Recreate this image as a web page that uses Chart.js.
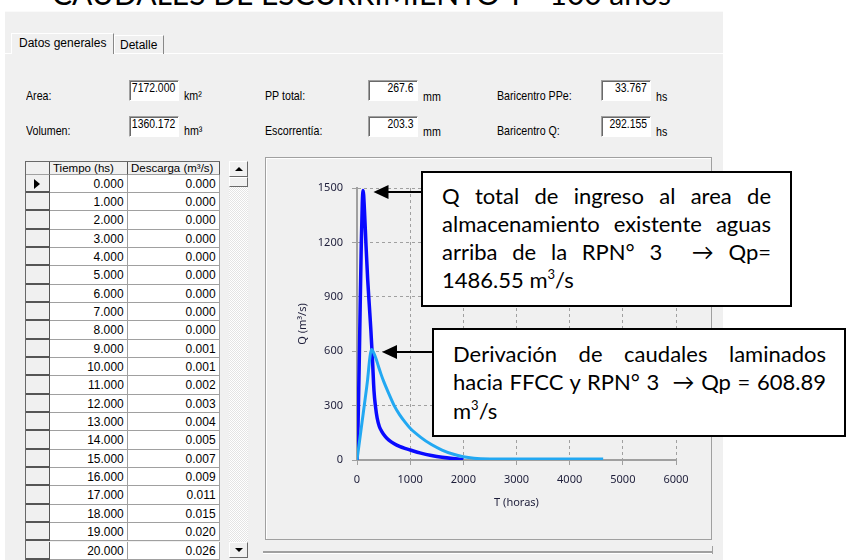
<!DOCTYPE html>
<html>
<head>
<meta charset="utf-8">
<script src="https://cdn.jsdelivr.net/npm/chart.js@4.4.0/dist/chart.umd.min.js"></script>
<style>
  body { margin:0; width:847px; height:560px; overflow:hidden; background:#fff; position:relative;
         font-family:'Liberation Sans', Arial, sans-serif; font-size:12px; color:#000; }
  .abs { position:absolute; }
  #title { left:52px; top:-22px; font:30px Lato, sans-serif; line-height:30px; white-space:nowrap; }
  #panel { left:5px; top:11px; width:718px; height:560px; background:#f0f0f0; border-top:1px solid #fafafa; }
  .tab { height:19px; border-left:1px solid #fff; border-top:1px solid #fff; border-right:1px solid #888; line-height:19px; padding-left:5px; box-sizing:border-box; white-space:nowrap; }
  .lbl { font-size:13px; line-height:14px; white-space:nowrap; transform:scaleX(0.82); transform-origin:left; }
  .box { background:#fff; border-top:1px solid #a0a0a0; border-left:1px solid #a0a0a0; border-right:1px solid #fff; border-bottom:1px solid #fff;
         box-shadow: inset 1px 1px 0 #696969; box-sizing:border-box; font-size:13px; }
  .box span { position:absolute; right:3px; top:0; line-height:14px; white-space:nowrap; transform:scaleX(0.8); transform-origin:right; }
  #grid { left:25px; top:161px; width:195px; height:399px; overflow:hidden; background:#f0f0f0; border-left:1px solid #696969; border-top:1px solid #696969; box-sizing:border-box; }
  .row { position:absolute; left:0; height:18.35px; width:194px; }
  .ind { position:absolute; left:0; width:24px; height:100%; border-bottom:2px solid #555; border-right:1px solid #555; box-sizing:border-box; background:#f0f0f0; }
  .c1, .c2 { position:absolute; height:100%; background:#fff; border-right:1px solid #a0a0a0; border-bottom:1px solid #a0a0a0; box-sizing:border-box; text-align:right; padding-right:3px; line-height:18px; font-size:13px; }
  .c1 { left:24px; width:78px; }
  .c2 { left:102px; width:92px; }
  .c1 span, .c2 span { display:inline-block; transform:scaleX(0.92); transform-origin:right; }
  .hd { position:absolute; top:0; height:12.5px; background:#f0f0f0; border-right:1px solid #555; border-bottom:1px solid #a0a0a0; box-sizing:border-box; line-height:12px; font-size:11.5px; white-space:nowrap; overflow:hidden; padding-left:3px; }
  #scroll { left:229px; top:161px; width:19px; height:397px;
            background: repeating-conic-gradient(#fff 0 25%, #e4e4e4 0 50%) 0 0/2px 2px; }
  .sbtn { position:absolute; left:0; width:19px; height:16px; background:#f0f0f0; border-top:1px solid #fff; border-left:1px solid #fff; border-right:1px solid #696969; border-bottom:1px solid #696969; box-sizing:border-box; }
  #group { left:265px; top:157px; width:447px; height:383px; border:1px solid #a0a0a0; box-shadow: inset 1px 1px 0 #fff; box-sizing:border-box; }
  #split { left:263px; top:551px; width:450px; height:3px; border-top:2px solid #a0a0a0; border-bottom:1px solid #fff; box-sizing:border-box; }
  #chartWrap { left:266px; top:158px; width:446px; height:381px; }
  .note { background:#fff; border:2px solid #000; box-sizing:border-box; font:22px Lato, 'DejaVu Sans', sans-serif; color:#000; }
  .note div { height:28.3px; line-height:28.3px; white-space:nowrap; }
  .note .j { text-align:justify; text-align-last:justify; }
  .note sup { font-size:13px; line-height:0; vertical-align:9px; }
</style>
</head>
<body>
<div id="title" class="abs">CAUDALES DE ESCURRIMIENTO T= 100 años</div>
<div id="panel" class="abs"></div>
<div class="abs" style="left:5px;top:53px;width:718px;height:1px;background:#fff"></div>
<div class="abs tab" style="left:11px;top:33px;width:103px;height:21px;background:#f0f0f0;padding-left:7px">Datos generales</div>
<div class="abs tab" style="left:114px;top:35px;width:50px;padding-left:5px">Detalle</div>

<div class="abs lbl" style="left:26px;top:89px">Area:</div>
<div class="abs box" style="left:129px;top:80px;width:50px;height:21px"><span>7172.000</span></div>
<div class="abs lbl" style="left:184px;top:89px">km²</div>
<div class="abs lbl" style="left:265px;top:89px">PP total:</div>
<div class="abs box" style="left:368px;top:80px;width:50px;height:21px"><span>267.6</span></div>
<div class="abs lbl" style="left:423px;top:90px">mm</div>
<div class="abs lbl" style="left:497px;top:89px">Baricentro PPe:</div>
<div class="abs box" style="left:601px;top:80px;width:50px;height:21px"><span>33.767</span></div>
<div class="abs lbl" style="left:656px;top:90px">hs</div>

<div class="abs lbl" style="left:26px;top:124px">Volumen:</div>
<div class="abs box" style="left:129px;top:116px;width:50px;height:21px"><span>1360.172</span></div>
<div class="abs lbl" style="left:184px;top:124px">hm³</div>
<div class="abs lbl" style="left:265px;top:124px">Escorrentía:</div>
<div class="abs box" style="left:368px;top:116px;width:50px;height:21px"><span>203.3</span></div>
<div class="abs lbl" style="left:423px;top:125px">mm</div>
<div class="abs lbl" style="left:497px;top:124px">Baricentro Q:</div>
<div class="abs box" style="left:601px;top:116px;width:50px;height:21px"><span>292.155</span></div>
<div class="abs lbl" style="left:656px;top:125px">hs</div>

<div id="grid" class="abs"></div>
<div id="scroll" class="abs">
  <div class="sbtn" style="top:0"><div class="abs" style="left:5px;top:5px;width:0;height:0;border-left:4px solid transparent;border-right:4px solid transparent;border-bottom:4px solid #000"></div></div>
  <div class="sbtn" style="top:16px;height:10px"></div>
  <div class="sbtn" style="top:381px"><div class="abs" style="left:5px;top:5px;width:0;height:0;border-left:4px solid transparent;border-right:4px solid transparent;border-top:4px solid #000"></div></div>
</div>

<div id="group" class="abs"></div>
<div id="split" class="abs"></div>
<div class="abs" style="left:712px;top:546px;width:1px;height:8px;background:#a0a0a0"></div>
<div id="chartWrap" class="abs"><canvas id="hydro" width="446" height="381"></canvas></div>

<div id="note1" class="abs note" style="left:421px;top:171px;width:371px;height:136px;padding:8.5px 19px 0 19px">
  <div class="j">Q total de ingreso al area de</div>
  <div class="j">almacenamiento existente aguas</div>
  <div class="j">arriba de la RPN° 3 &nbsp;→ Qp=</div>
  <div>1486.55 m<sup>3</sup>/s</div>
</div>
<div id="note2" class="abs note" style="left:432px;top:328px;width:414px;height:109px;padding:10px 18px 0 19px">
  <div class="j">Derivación de caudales laminados</div>
  <div class="j">hacia FFCC y RPN° 3 &nbsp;→ Qp = 608.89</div>
  <div>m<sup>3</sup>/s</div>
</div>

<script>
// Hidrograma total de ingreso (azul oscuro)
const tTotal = [0, 20, 40, 60, 80, 100, 115, 140, 170, 200, 230, 260, 290, 320, 350, 380, 420, 470, 530, 600, 700, 800, 900, 1000, 1200, 1400, 1600, 1800, 2000];
const qTotal = [0, 200, 500, 850, 1180, 1420, 1486.55, 1380, 1180, 1000, 860, 720, 560, 380, 290, 230, 185, 155, 130, 110, 90, 75, 64, 55, 38, 25, 15, 8, 3];

// Hidrograma laminado (celeste)
const tLam = [0, 50, 100, 150, 200, 240, 270, 300, 350, 400, 450, 500, 600, 700, 800, 900, 1000, 1200, 1400, 1600, 1800, 2000, 2200, 2500, 3000, 3500, 4000, 4630];
const qLam = [0, 110, 220, 330, 445, 560, 608.89, 600, 565, 520, 475, 435, 365, 300, 250, 210, 175, 125, 85, 55, 33, 18, 10, 6, 5, 5, 5, 5];

// Axis ticks
const xTicks = [0, 1000, 2000, 3000, 4000, 5000, 6000];
const yTicks = [0, 300, 600, 900, 1200, 1500];

// Where the two callout arrows point (t, Q)
const arrowT = [310, 470];
const arrowQ = [1480, 598];

// Grid table (left)
const tableTiempo = [0, 1, 2, 3, 4, 5, 6, 7, 8, 9, 10, 11, 12, 13, 14, 15, 16, 17, 18, 19, 20];
const tableDescarga = [0, 0, 0, 0, 0, 0, 0, 0, 0, 0.001, 0.001, 0.002, 0.003, 0.004, 0.005, 0.007, 0.009, 0.011, 0.015, 0.020, 0.026];

// build the table
function buildGrid() {
  const g = document.getElementById('grid');
  let html = '<div class="hd" style="left:0;width:24px"></div>' +
    '<div class="hd" style="left:24px;width:78px">Tiempo (hs)</div>' +
    '<div class="hd" style="left:102px;width:92px">Descarga (m³/s)</div>';
  tableTiempo.forEach((t, i) => {
    const top = 12.5 + i * 18.35;
    const mark = i === 0 ? '<div style="position:absolute;left:8px;top:4px;width:0;height:0;border-top:5px solid transparent;border-bottom:5px solid transparent;border-left:6px solid #000"></div>' : '';
    html += '<div class="row" style="top:' + top + 'px">' +
      '<div class="ind">' + mark + '</div>' +
      '<div class="c1"><span>' + t.toFixed(3) + '</span></div>' +
      '<div class="c2"><span>' + tableDescarga[i].toFixed(3) + '</span></div></div>';
  });
  g.innerHTML = html;
}
buildGrid();

const tickFont = { family: "'Noto Sans', 'Open Sans', sans-serif", size: 11 };
const tickColor = '#1e1e3a';
const gridGray = '#a0a0a0';

// callout arrows, drawn on the chart
const arrowPlugin = {
  id: 'arrows',
  afterDatasetsDraw(chart) {
    const { ctx, scales: { x, y } } = chart;
    const canvasLeft = document.getElementById('chartWrap').offsetLeft;
    const boxes = [document.getElementById('note1'), document.getElementById('note2')];
    ctx.save();
    ctx.fillStyle = '#000';
    ctx.strokeStyle = '#000';
    ctx.lineWidth = 2;
    arrowT.forEach((t, i) => {
      const px = x.getPixelForValue(t);
      const py = Math.round(y.getPixelForValue(arrowQ[i]));
      const tail = boxes[i].offsetLeft - canvasLeft + 1;
      ctx.beginPath();
      ctx.moveTo(tail, py);
      ctx.lineTo(px + 12, py);
      ctx.stroke();
      ctx.beginPath();
      ctx.moveTo(px, py);
      ctx.lineTo(px + 15, py - 7);
      ctx.lineTo(px + 15, py + 7);
      ctx.closePath();
      ctx.fill();
    });
    ctx.restore();
  }
};

new Chart(document.getElementById('hydro'), {
  type: 'line',
  data: {
    datasets: [
      {
        label: 'Laminado',
        data: tLam.map((t, i) => ({ x: t, y: qLam[i] })),
        borderColor: '#22a8f2',
        borderWidth: 3,
        pointRadius: 0,
        cubicInterpolationMode: 'monotone',
        order: 0
      },
      {
        label: 'Total',
        data: tTotal.map((t, i) => ({ x: t, y: qTotal[i] })),
        borderColor: '#0a0aff',
        borderWidth: 3.5,
        pointRadius: 0,
        cubicInterpolationMode: 'monotone',
        order: 1
      }
    ]
  },
  options: {
    responsive: false,
    animation: false,
    layout: { padding: { left: 0, right: 36, top: 30, bottom: 0 } },
    plugins: { legend: { display: false }, tooltip: { enabled: false } },
    scales: {
      x: {
        type: 'linear', min: 0, max: 6000,
        afterBuildTicks: s => { s.ticks = xTicks.map(v => ({ value: v })); },
        afterFit: s => { s.height = 79; },
        ticks: { color: tickColor, font: tickFont, padding: 8, maxRotation: 0, callback: v => String(v) },
        grid: { color: gridGray, tickColor: gridGray, tickLength: 5, lineWidth: 1 },
        border: { color: gridGray, width: 2, dash: [3, 3] },
        title: { display: true, text: 'T (horas)', color: tickColor, font: tickFont, padding: { top: 0, bottom: 30 } }
      },
      y: {
        min: 0, max: 1500,
        afterBuildTicks: s => { s.ticks = yTicks.map(v => ({ value: v })); },
        afterFit: s => { s.width = 91; },
        ticks: { color: tickColor, font: tickFont, padding: 9, callback: v => String(v) },
        grid: { color: gridGray, tickColor: gridGray, tickLength: 5, lineWidth: 1 },
        border: { color: gridGray, width: 2, dash: [3, 3] },
        title: { display: true, text: 'Q (m³/s)', color: tickColor, font: tickFont, padding: { top: 30, bottom: 0 } }
      }
    }
  },
  plugins: [arrowPlugin]
});
</script>
</body>
</html>
